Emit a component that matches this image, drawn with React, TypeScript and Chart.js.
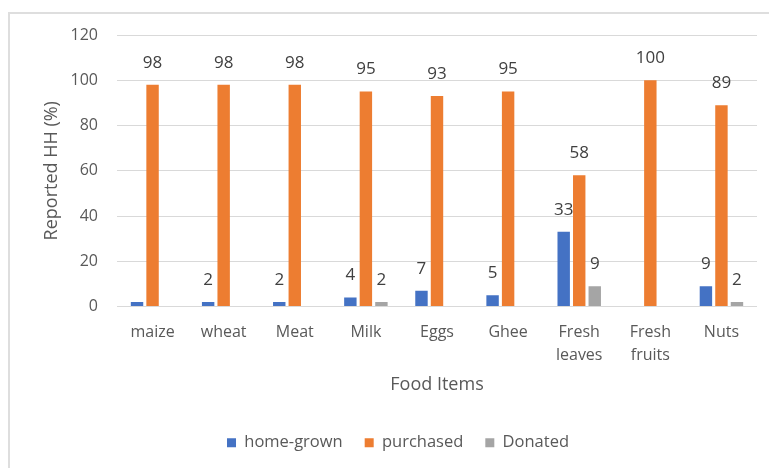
import React, { useEffect, useRef } from "react";
import { Chart, registerables } from "chart.js";

Chart.register(...registerables);

const categories: (string | string[])[] = [
  "maize",
  "wheat",
  "Meat",
  "Milk",
  "Eggs",
  "Ghee",
  ["Fresh", "leaves"],
  ["Fresh", "fruits"],
  "Nuts",
];
const homeGrown = [2, 2, 2, 4, 7, 5, 33, 0, 9];
const purchased = [98, 98, 98, 95, 93, 95, 58, 100, 89];
const donated = [0, 0, 0, 2, 0, 0, 9, 0, 2];

const homeGrownLabels = ["", "2", "2", "4", "7", "5", "33", "", "9"];
const purchasedLabels = ["98", "98", "98", "95", "93", "95", "58", "100", "89"];
const donatedLabels = ["", "", "", "2", "", "", "9", "", "2"];

const yTicks = { min: 0, max: 120, step: 20 };

const FONT = "'Open Sans', sans-serif";
const TEXT = "#595959";

const valueLabelPlugin = {
  id: "valueLabels",
  afterDatasetsDraw(chart: any) {
    const { ctx } = chart;
    const allLabels = [homeGrownLabels, purchasedLabels, donatedLabels];
    ctx.save();
    ctx.font = `17px ${FONT}`;
    ctx.fillStyle = "#404040";
    ctx.textAlign = "center";
    ctx.textBaseline = "middle";
    chart.data.datasets.forEach((_: any, di: number) => {
      const meta = chart.getDatasetMeta(di);
      meta.data.forEach((bar: any, i: number) => {
        const txt = allLabels[di][i];
        if (!txt) return;
        ctx.fillText(txt, bar.x, bar.y - 22);
      });
    });
    ctx.restore();
  },
};

export default function App() {
  const ref = useRef<HTMLCanvasElement | null>(null);

  useEffect(() => {
    if (!ref.current) return;
    const chart = new Chart(ref.current, {
      type: "bar",
      data: {
        labels: categories as any,
        datasets: [
          {
            label: "home-grown",
            data: homeGrown,
            backgroundColor: "#4472C4",
            categoryPercentage: 0.655,
            barPercentage: 0.8,
          },
          {
            label: "purchased",
            data: purchased,
            backgroundColor: "#ED7D31",
            categoryPercentage: 0.655,
            barPercentage: 0.8,
          },
          {
            label: "Donated",
            data: donated,
            backgroundColor: "#A5A5A5",
            categoryPercentage: 0.655,
            barPercentage: 0.8,
          },
        ],
      },
      options: {
        responsive: false,
        animation: false,
        layout: { padding: { left: 39, right: 12, top: 35, bottom: 7 } },
        plugins: {
          tooltip: { enabled: false },
          legend: {
            position: "bottom",
            labels: {
              boxWidth: 9,
              boxHeight: 9,
              padding: 22,
              color: TEXT,
              font: { family: FONT, size: 16.5 },
            },
          },
        },
        scales: {
          x: {
            grid: { display: false, drawTicks: false },
            border: { display: false },
            ticks: {
              color: TEXT,
              font: { family: FONT, size: 16, lineHeight: 1.44 },
              padding: 14,
              maxRotation: 0,
              autoSkip: false,
            },
            title: {
              display: true,
              text: "Food Items",
              color: TEXT,
              font: { family: FONT, size: 18 },
              padding: { top: 0, bottom: 17 },
            },
            afterFit(scale: any) {
              scale.height = 106;
            },
          },
          y: {
            min: yTicks.min,
            max: yTicks.max,
            grid: { color: "#d9d9d9", lineWidth: 1, drawTicks: false },
            border: { display: false },
            ticks: {
              stepSize: yTicks.step,
              color: TEXT,
              font: { family: FONT, size: 16 },
              padding: 19,
            },
            title: {
              display: true,
              text: "Reported HH (%)",
              color: TEXT,
              font: { family: FONT, size: 18 },
              padding: { top: 2, bottom: 0 },
            },
            afterFit(scale: any) {
              scale.width = 78;
            },
          },
        },
      },
      plugins: [valueLabelPlugin],
    });
    return () => chart.destroy();
  }, []);

  return (
    <div style={{ position: "fixed", left: 0, top: 0, width: 769, height: 468, background: "#fff" }}>
      <div
        style={{
          position: "absolute",
          left: 8,
          top: 12,
          width: 770,
          height: 470,
          borderLeft: "2px solid #dedede",
          borderTop: "2px solid #dedede",
        }}
      />
      <canvas
        ref={ref}
        width={769}
        height={468}
        style={{ position: "absolute", left: 0, top: 0, width: 769, height: 468 }}
      />
    </div>
  );
}
